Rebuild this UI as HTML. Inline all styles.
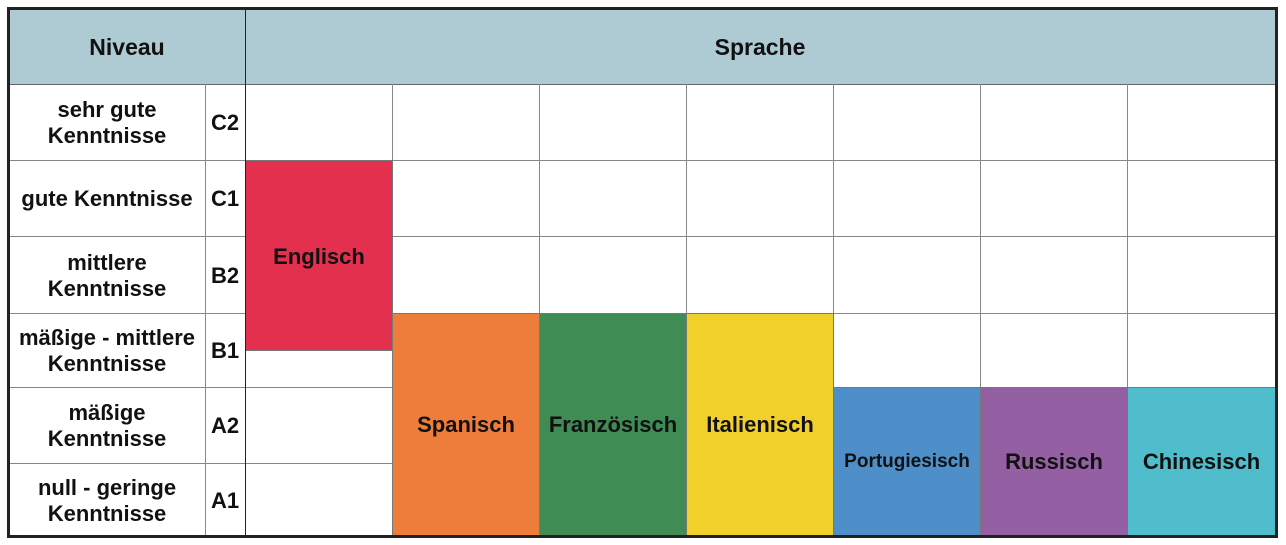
<!DOCTYPE html>
<html><head><meta charset="utf-8"><style>
body{margin:0;width:1286px;height:545px;background:#fff;position:relative;font-family:"Liberation Sans",Arial,sans-serif;font-weight:bold;overflow:hidden}
div{position:absolute;box-sizing:border-box}
.h{background:#aecbd4}
.vl{width:1px;background:#888}
.hl{height:1px;background:#888}
.t{display:flex;align-items:center;justify-content:center;text-align:center;font-size:22px;line-height:26px;color:#111;white-space:nowrap}
.b{border:1px solid #777}
</style></head><body>
<div class="h" style="left:9px;top:9px;width:1266px;height:75px"></div>
<div class="hl" style="left:9px;top:84px;width:1266px;background:#666"></div>
<div class="hl" style="left:9px;top:160px;width:1266px"></div>
<div class="hl" style="left:9px;top:236px;width:1266px"></div>
<div class="hl" style="left:9px;top:313px;width:1266px"></div>
<div class="hl" style="left:9px;top:387px;width:1266px"></div>
<div class="hl" style="left:9px;top:463px;width:236px"></div>
<div class="hl" style="left:245px;top:463px;width:147px"></div>
<div class="vl" style="left:205px;top:84px;height:452px"></div>
<div class="vl" style="left:392px;top:84px;height:452px"></div>
<div class="vl" style="left:539px;top:84px;height:452px"></div>
<div class="vl" style="left:686px;top:84px;height:452px"></div>
<div class="vl" style="left:833px;top:84px;height:452px"></div>
<div class="vl" style="left:980px;top:84px;height:452px"></div>
<div class="vl" style="left:1127px;top:84px;height:452px"></div>
<div class="t b" style="left:245px;top:160px;width:148px;height:191px;background:#e3304e;padding-top:2px">Englisch</div>
<div class="t b" style="left:392px;top:313px;width:148px;height:223px;background:#ee7c3a">Spanisch</div>
<div class="t b" style="left:539px;top:313px;width:148px;height:223px;background:#3f8c55">Französisch</div>
<div class="t b" style="left:686px;top:313px;width:148px;height:223px;background:#f1d02c">Italienisch</div>
<div class="t b" style="left:833px;top:387px;width:148px;height:149px;background:#4e8fca;font-size:19px">Portugiesisch</div>
<div class="t b" style="left:980px;top:387px;width:148px;height:149px;background:#9560a3">Russisch</div>
<div class="t b" style="left:1127px;top:387px;width:149px;height:149px;background:#4fbdcb">Chinesisch</div>
<div class="vl" style="left:245px;top:9px;height:527px;background:#222"></div>
<div class="t" style="left:9px;top:9px;width:236px;height:75px;font-size:23px">Niveau</div>
<div class="t" style="left:245px;top:9px;width:1030px;height:75px;font-size:23px">Sprache</div>
<div class="t" style="left:9px;top:84px;width:196px;height:78px">sehr gute<br>Kenntnisse</div>
<div class="t" style="left:9px;top:160px;width:196px;height:78px">gute Kenntnisse</div>
<div class="t" style="left:9px;top:236px;width:196px;height:79px">mittlere<br>Kenntnisse</div>
<div class="t" style="left:9px;top:313px;width:196px;height:76px">mäßige - mittlere<br>Kenntnisse</div>
<div class="t" style="left:9px;top:387px;width:196px;height:78px">mäßige<br>Kenntnisse</div>
<div class="t" style="left:9px;top:463px;width:196px;height:75px">null - geringe<br>Kenntnisse</div>
<div class="t" style="left:205px;top:84px;width:40px;height:78px">C2</div>
<div class="t" style="left:205px;top:160px;width:40px;height:78px">C1</div>
<div class="t" style="left:205px;top:236px;width:40px;height:79px">B2</div>
<div class="t" style="left:205px;top:313px;width:40px;height:76px">B1</div>
<div class="t" style="left:205px;top:387px;width:40px;height:78px">A2</div>
<div class="t" style="left:205px;top:463px;width:40px;height:75px">A1</div>
<div style="left:7px;top:7px;width:1271px;height:531px;border:3px solid #222"></div>
</body></html>
